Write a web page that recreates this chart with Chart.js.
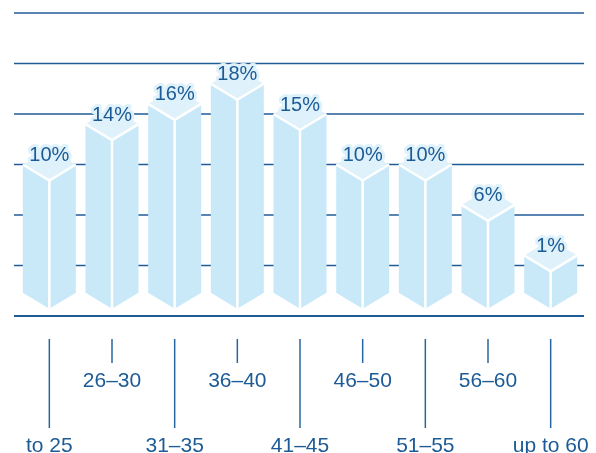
<!DOCTYPE html>
<html><head><meta charset="utf-8">
<script src="https://cdn.jsdelivr.net/npm/chart.js@4/dist/chart.umd.min.js"></script>
<style>html,body{margin:0;padding:0;background:#fff}#wrap{width:596px;height:453px}</style>
</head><body><div id="wrap"><canvas id="c" width="596" height="453"></canvas></div>
<script>
const categories = ['to 25','26\u201330','31\u201335','36\u201340','41\u201345','46\u201350','51\u201355','56\u201360','up to 60'];
const shares = [10,14,16,18,15,10,10,6,1];
const valueLabels = ['10%','14%','16%','18%','15%','10%','10%','6%','1%'];
const gridValues = [-5,0,5,10,15,20,25];

const TEXT = '#1c5b95';
const GRID = '#1f5b97';
const FACE = '#c9e9f9';
const TOP = '#dff2fb';
const FONT = '"Liberation Sans", Arial, sans-serif';

const prismPlugin = {
  id: 'prism',
  beforeDatasetsDraw(chart) {
    const ctx = chart.ctx, ys = chart.scales.y, a = chart.chartArea;
    ctx.save();
    ctx.strokeStyle = GRID;
    gridValues.forEach((v, i) => {
      const y = ys.getPixelForValue(v);
      ctx.lineWidth = i === 0 ? 2 : 1.5;
      ctx.beginPath();
      ctx.moveTo(a.left - 4, y);
      ctx.lineTo(a.right + 2, y);
      ctx.stroke();
    });
    ctx.restore();
  },
  afterDatasetsDraw(chart) {
    const ctx = chart.ctx;
    const meta = chart.getDatasetMeta(0);
    ctx.save();
    meta.data.forEach((el, i) => {
      const p = el.getProps(['x','y','base','width'], true);
      const x = p.x, y = p.y, B = p.base, hw = p.width / 2, h = 16;
      ctx.fillStyle = FACE;
      ctx.beginPath();
      ctx.moveTo(x - hw, y); ctx.lineTo(x, y + h); ctx.lineTo(x, B + h); ctx.lineTo(x - hw, B); ctx.closePath();
      ctx.fill();
      ctx.beginPath();
      ctx.moveTo(x + hw, y); ctx.lineTo(x, y + h); ctx.lineTo(x, B + h); ctx.lineTo(x + hw, B); ctx.closePath();
      ctx.fill();
      ctx.fillStyle = TOP;
      ctx.beginPath();
      ctx.moveTo(x, y - h); ctx.lineTo(x + hw, y); ctx.lineTo(x, y + h); ctx.lineTo(x - hw, y); ctx.closePath();
      ctx.fill();
      ctx.strokeStyle = '#ffffff';
      ctx.lineWidth = 2.5;
      ctx.beginPath();
      ctx.moveTo(x - hw, y); ctx.lineTo(x, y + h); ctx.lineTo(x + hw, y);
      ctx.moveTo(x, y + h); ctx.lineTo(x, B + h);
      ctx.stroke();
      // value label
      ctx.font = '20px ' + FONT;
      ctx.textAlign = 'center';
      ctx.textBaseline = 'middle';
      ctx.lineJoin = 'round';
      ctx.strokeStyle = TOP;
      ctx.lineWidth = 6;
      ctx.strokeText(valueLabels[i], x, y - 9);
      ctx.fillStyle = TEXT;
      ctx.fillText(valueLabels[i], x, y - 9);
    });
    ctx.restore();
  },
  afterDraw(chart) {
    const ctx = chart.ctx, xs = chart.scales.x;
    ctx.save();
    ctx.strokeStyle = '#2766a2';
    ctx.lineWidth = 1.5;
    ctx.fillStyle = TEXT;
    ctx.font = '21px ' + FONT;
    ctx.textAlign = 'center';
    ctx.textBaseline = 'alphabetic';
    categories.forEach((c, i) => {
      const x = xs.getPixelForValue(i);
      const lower = i % 2 === 0;
      ctx.beginPath();
      ctx.moveTo(x, 339);
      ctx.lineTo(x, lower ? 428 : 363);
      ctx.stroke();
      ctx.fillText(c, x, lower ? 452 : 386.5);
    });
    ctx.restore();
  }
};

new Chart(document.getElementById('c'), {
  type: 'bar',
  data: {
    labels: categories,
    datasets: [{
      data: shares,
      base: -2.7,
      backgroundColor: 'rgba(0,0,0,0)',
      borderWidth: 0,
      barPercentage: 0.846,
      categoryPercentage: 1
    }]
  },
  options: {
    responsive: false,
    animation: false,
    devicePixelRatio: 1,
    layout: { padding: { left: 18, right: 14, top: 13, bottom: 137 } },
    plugins: { legend: { display: false }, tooltip: { enabled: false } },
    scales: {
      x: { type: 'category', display: false, offset: true },
      y: { type: 'linear', display: false, min: -5, max: 25 }
    }
  },
  plugins: [prismPlugin]
});
</script>
</body></html>
